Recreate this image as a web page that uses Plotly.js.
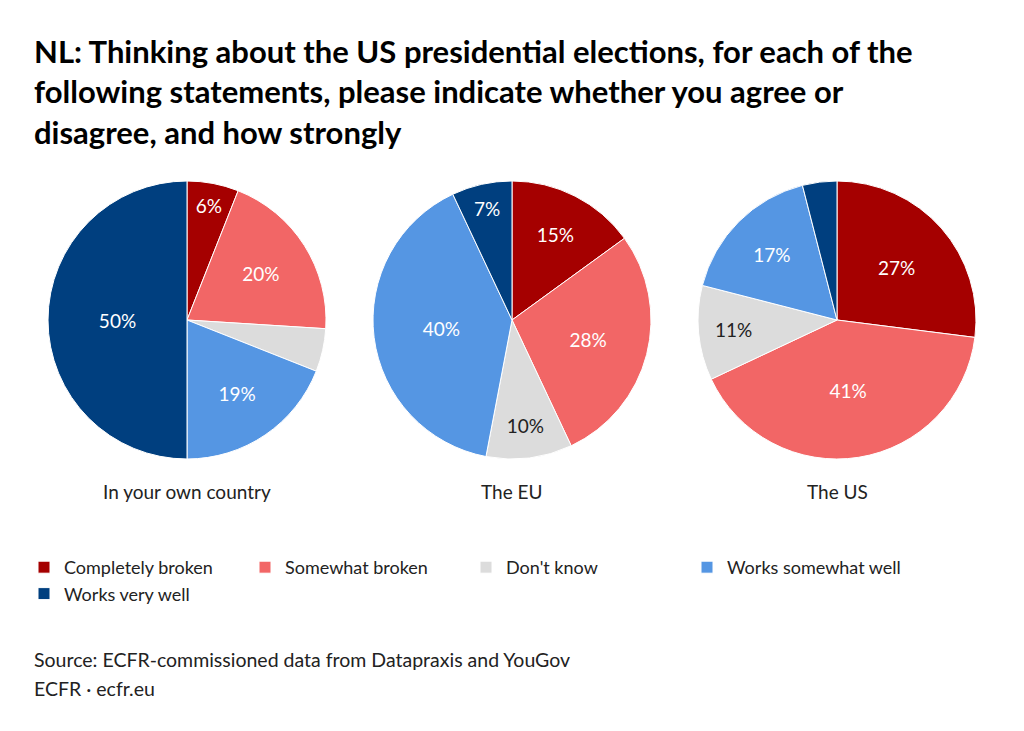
<!DOCTYPE html>
<html>
<head>
<meta charset="utf-8">
<script src="https://cdn.plot.ly/plotly-3.0.1.min.js"></script>
<style>html,body{margin:0;padding:0;background:#fff;}#chart{width:1024px;height:731px;}</style>
</head>
<body>
<div id="chart"></div>
<script>
const categories = ["Completely broken", "Somewhat broken", "Don't know", "Works somewhat well", "Works very well"];
const colors = ["#A50000", "#F26666", "#DCDCDC", "#5596E3", "#003F7F"];
const groups = ["In your own country", "The EU", "The US"];
const ownCountry = [6, 20, 5, 19, 50];
const theEU = [15, 28, 10, 40, 7];
const theUS = [27, 41, 11, 17, 4];
const titleText = "NL: Thinking about the US presidential elections, for each of the<br>following statements, please indicate whether you agree or<br>disagree, and how strongly";
const sourceLines = ["Source: ECFR-commissioned data from Datapraxis and YouGov", "ECFR · ecfr.eu"];

const W = 1024, H = 731;
const MR = 48;
const PW = W - MR;
const px = p => p / PW;
const py = p => 1 - p / H;
const FONT = "Lato, 'Open Sans', sans-serif";
const series = [ownCountry, theEU, theUS];
const centersX = [187, 512, 837];
const cy = 320, R = 139;

const data = series.map((vals, i) => ({
  type: 'pie',
  labels: categories,
  values: vals,
  text: vals.map(v => v >= 6 ? v + '%' : ''),
  textinfo: 'text',
  textposition: 'inside',
  insidetextorientation: 'horizontal',
  textfont: {family: FONT, size: 19, color: categories.map((c, k) => k === 2 ? '#222' : '#fff')},
  sort: false,
  direction: 'clockwise',
  rotation: 0,
  marker: {colors: colors, line: {color: '#fff', width: 1}},
  hoverinfo: 'skip',
  showlegend: i === 0,
  domain: {
    x: [px(centersX[i] - R), px(centersX[i] + R)],
    y: [py(cy + R), py(cy - R)]
  }
}));

const annotations = [
  {text: titleText, xref: 'paper', yref: 'paper', x: px(32), y: py(30), xanchor: 'left', yanchor: 'top',
   align: 'left', showarrow: false, font: {family: FONT, size: 31, color: '#000', weight: 'bold'}}
];
[659, 688].forEach((yy, k) => annotations.push({
  text: sourceLines[k], xref: 'paper', yref: 'paper', x: px(32), y: py(yy), xanchor: 'left', yanchor: 'middle',
  align: 'left', showarrow: false, font: {family: FONT, size: 19.5, color: '#222'}
}));
groups.forEach((g, i) => annotations.push({
  text: g, xref: 'paper', yref: 'paper', x: px(centersX[i]), y: py(491), xanchor: 'center', yanchor: 'middle',
  showarrow: false, font: {family: FONT, size: 19, color: '#222'}
}));

const layout = {
  width: W, height: H,
  margin: {l: 0, r: MR, t: 0, b: 0},
  paper_bgcolor: '#fff',
  font: {family: FONT, color: '#222'},
  showlegend: true,
  legend: {orientation: 'h', x: px(24), y: py(549), xanchor: 'left', yanchor: 'top',
           entrywidth: 176, entrywidthmode: 'pixels', tracegroupgap: 0,
           font: {family: FONT, size: 18, color: '#222'}, traceorder: 'normal'},
  annotations: annotations
};

Plotly.newPlot('chart', data, layout, {displayModeBar: false, staticPlot: true});
</script>
</body>
</html>
